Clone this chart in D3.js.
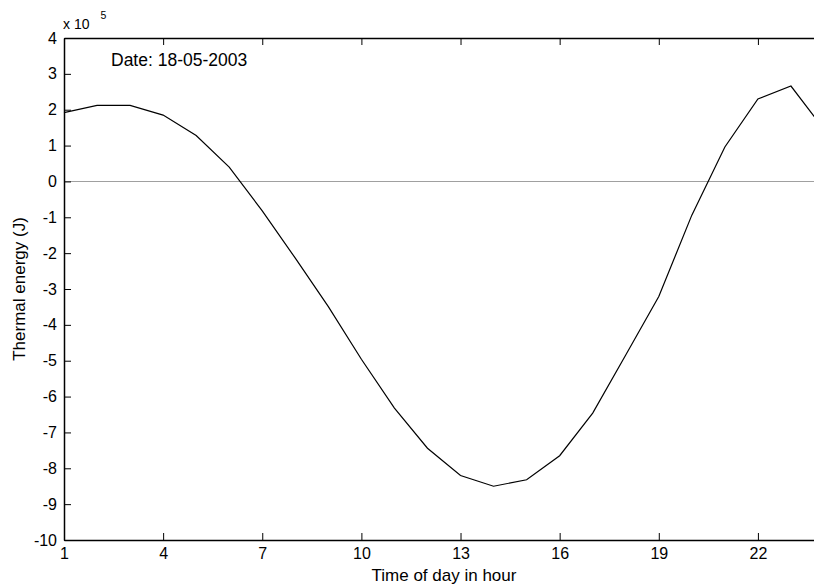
<!DOCTYPE html>
<html>
<head>
<meta charset="utf-8">
<script src="https://cdn.jsdelivr.net/npm/d3@7"></script>
<style>
  body { margin: 0; background: #fff; }
  svg { display: block; font-family: 'Liberation Sans', Arial, sans-serif; }
  .axis path, .axis line { stroke: #000; }
</style>
</head>
<body>
<div id="chart"></div>
<script>
// hourly thermal energy, units of 1e5 J
const hours = d3.range(1, 25);
const energy = [1.92, 2.12, 2.12, 1.85, 1.28, 0.40, -0.82, -2.14, -3.49, -4.96, -6.32, -7.44,
                -8.20, -8.50, -8.32, -7.65, -6.46, -4.84, -3.21, -0.94, 0.96, 2.30, 2.66, 1.45];
const xTicks = [1, 4, 7, 10, 13, 16, 19, 22];
const yTicks = d3.range(-10, 5, 1);

const width = 814;
const height = 587;
const mLeft = 64, mRight = 824, mTop = 38, mBottom = 540;

const svg = d3.select('#chart')
  .append('svg')
  .attr('width', width)
  .attr('height', height);

const x = d3.scaleLinear().domain([1, 24]).range([mLeft, mRight]);
const y = d3.scaleLinear().domain([-10, 4]).range([mBottom, mTop]);

// zero reference line
svg.append('line')
  .attr('x1', x(1)).attr('x2', x(24))
  .attr('y1', Math.round(y(0)) + 0.5).attr('y2', Math.round(y(0)) + 0.5)
  .attr('stroke', '#a0a0a0')
  .attr('stroke-width', 1);

// data line
const line = d3.line()
  .x((d, i) => x(hours[i]))
  .y(d => y(d));

svg.append('path')
  .datum(energy)
  .attr('fill', 'none')
  .attr('stroke', '#000')
  .attr('stroke-width', 1.2)
  .attr('d', line);

// plain hyphen for negatives, like the original
const fmt = d => String(d);

// axes, ticks pointing inward
svg.append('g')
  .attr('class', 'axis')
  .attr('transform', `translate(0,${mBottom})`)
  .call(d3.axisBottom(x).tickValues(xTicks).tickFormat(fmt).tickSizeInner(-7).tickSizeOuter(0).tickPadding(8));

svg.append('g')
  .attr('class', 'axis')
  .attr('transform', `translate(0,${mTop})`)
  .call(d3.axisTop(x).tickValues(xTicks).tickSizeInner(-7).tickSizeOuter(0).tickFormat(''));

svg.append('g')
  .attr('class', 'axis')
  .attr('transform', `translate(${mLeft},0)`)
  .call(d3.axisLeft(y).tickValues(yTicks).tickFormat(fmt).tickSizeInner(-7).tickSizeOuter(0).tickPadding(7));

svg.selectAll('.axis text')
  .attr('fill', '#000')
  .style('font-size', '16px');

svg.selectAll('.axis path').attr('stroke-width', 1.5);

// exponent label
const expo = svg.append('text')
  .attr('x', 63)
  .attr('y', 29)
  .style('font-size', '14px')
  .text('x 10');
expo.append('tspan')
  .attr('dy', -10)
  .attr('dx', 11)
  .style('font-size', '10.5px')
  .text('5');

// date annotation
svg.append('text')
  .attr('x', 111)
  .attr('y', 66)
  .style('font-size', '17.5px')
  .text('Date: 18-05-2003');

// axis titles
svg.append('text')
  .attr('x', (mLeft + mRight) / 2)
  .attr('y', 581)
  .attr('text-anchor', 'middle')
  .style('font-size', '17px')
  .text('Time of day in hour');

svg.append('text')
  .attr('transform', `translate(25,${(mTop + mBottom) / 2}) rotate(-90)`)
  .attr('text-anchor', 'middle')
  .style('font-size', '17px')
  .text('Thermal energy (J)');
</script>
</body>
</html>
